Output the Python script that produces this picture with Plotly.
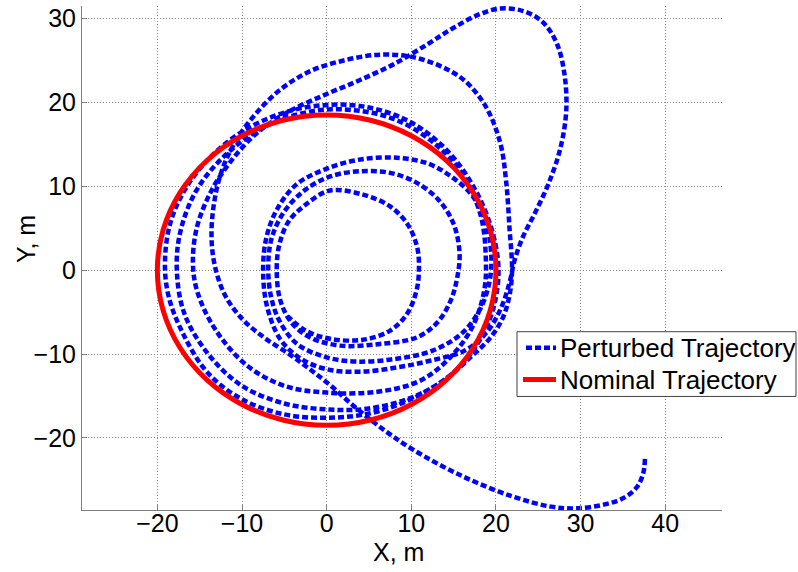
import plotly.graph_objects as go

# Perturbed trajectory (in path order)
perturbed_x = [37.6, 37.4, 36.7, 35.2, 33.0, 29.5, 26.5, 22.0, 16.1, 10.2, 6.3, 3.2, 0.4, -2.0, -4.3, -7.3, -9.9, -12.0, -13.2, -13.6, -13.3, -12.4, -10.8, -8.5, -5.5, -2.0, 2.0, 6.3, 10.2, 13.5, 16.3, 18.8, 20.5, 21.2, 21.6, 21.9, 21.6, 20.8, 19.3, 17.2, 14.0, 9.5, 5.0, 0.0, -5.0, -10.0, -14.0, -17.0, -18.7, -19.1, -18.5, -16.8, -14.0, -10.0, -5.0, 0.0, 5.0, 10.0, 14.3, 17.6, 19.6, 20.3, 19.7, 18.0, 15.0, 10.5, 5.0, 0.0, -5.0, -10.0, -14.0, -16.8, -17.7, -17.3, -15.5, -12.3, -7.5, -2.0, 3.0, 8.0, 12.5, 16.0, 18.2, 18.8, 18.6, 17.2, 14.6, 11.0, 6.0, 0.0, -5.0, -9.5, -13.2, -15.3, -15.8, -15.3, -13.6, -11.3, -8.3, -4.5, 0.0, 4.0, 8.0, 12.0, 15.0, 18.0, 20.5, 23.2, 25.5, 27.2, 28.1, 28.3, 27.6, 26.2, 24.6, 23.2, 22.2, 21.6, 20.6, 19.0, 16.5, 12.2, 8.3, 4.3, 0.4, -3.0, -5.5, -7.0, -7.5, -7.2, -6.0, -3.6, 0.0, 4.0, 8.3, 12.0, 14.8, 17.2, 18.7, 19.4, 19.3, 18.2, 16.0, 12.5, 8.0, 3.5, 0.0, -3.5, -5.6, -6.6, -6.9, -6.5, -5.0, -2.5, 0.5, 4.0, 7.5, 10.5, 13.2, 15.0, 15.7, 15.4, 14.7, 13.2, 10.7, 6.3, 1.6, -2.0, -4.2, -5.5, -5.9, -5.6, -4.5, -2.5, 0.4, 4.3, 7.5, 9.6, 10.7, 10.9, 10.6, 9.5, 7.5, 4.3, 0.5, -2.5, -4.6]
perturbed_y = [-22.5, -24.2, -25.8, -27.1, -27.9, -28.4, -28.2, -27.0, -24.6, -21.4, -18.7, -16.2, -13.7, -11.8, -10.1, -8.1, -5.9, -3.0, 0.5, 4.0, 8.0, 11.8, 15.3, 18.5, 21.5, 23.7, 25.0, 25.7, 25.4, 24.3, 22.6, 19.5, 15.2, 10.6, 5.0, 0.0, -3.0, -5.7, -8.1, -10.2, -13.0, -15.6, -17.1, -17.6, -17.2, -15.4, -12.3, -7.5, -3.0, 1.0, 5.5, 9.5, 13.2, 16.5, 18.8, 19.7, 19.4, 17.6, 14.2, 9.5, 4.5, 0.0, -4.5, -8.5, -12.2, -15.0, -16.5, -16.6, -15.9, -13.8, -10.0, -5.2, 0.0, 4.5, 9.3, 13.4, 17.0, 18.9, 19.1, 18.0, 15.3, 11.5, 6.5, 1.5, -2.5, -6.8, -10.4, -13.2, -14.5, -14.6, -13.8, -11.3, -7.0, -2.5, 1.0, 5.2, 9.5, 13.0, 16.3, 18.9, 21.0, 22.7, 24.6, 27.0, 28.9, 30.5, 31.2, 30.9, 29.6, 27.0, 23.3, 19.0, 14.5, 10.3, 6.8, 4.0, 1.2, -1.5, -4.5, -7.3, -9.5, -10.8, -11.6, -12.1, -11.9, -10.6, -8.2, -4.5, -0.5, 3.5, 7.0, 10.2, 12.1, 13.2, 13.4, 12.7, 11.1, 8.9, 6.0, 2.5, -1.0, -4.5, -7.5, -9.6, -10.6, -10.9, -10.4, -8.8, -6.0, -3.0, 0.5, 3.8, 7.0, 9.6, 11.2, 11.8, 11.6, 10.5, 8.4, 5.5, 2.0, -1.0, -3.5, -6.1, -8.0, -8.8, -9.0, -8.0, -6.2, -3.5, 0.0, 3.0, 5.8, 7.8, 9.5, 9.0, 7.6, 5.4, 2.7, 0.0, -2.5, -5.2, -7.2, -8.3, -8.2, -7.2, -5.5]

# Nominal trajectory
nominal_x = [20.0, 19.32, 17.32, 14.14, 10.0, 5.18, 0.0, -5.18, -10.0, -14.14, -17.32, -19.32, -20.0, -19.32, -17.32, -14.14, -10.0, -5.18, 0.0, 5.18, 10.0, 14.14, 17.32, 19.32, 20.0]
nominal_y = [0.0, 4.79, 9.25, 13.08, 16.02, 17.87, 18.5, 17.87, 16.02, 13.08, 9.25, 4.79, 0.0, -4.79, -9.25, -13.08, -16.02, -17.87, -18.5, -17.87, -16.02, -13.08, -9.25, -4.79, 0.0]

x_ticks = [-20, -10, 0, 10, 20, 30, 40]
y_ticks = [-20, -10, 0, 10, 20, 30]
legend_labels = ["Perturbed Trajectory", "Nominal Trajectory"]

FONT = "Liberation Sans, Arial, sans-serif"
BLUE = "#0000FF"
RED = "#FF0000"
BLUE_DASH = "6px,3px"

# plot box in pixels
L, R, T, B = 82, 722, 4, 510


def px(xp):
    return (xp - L) / (R - L)


def py(yp):
    return (B - yp) / (B - T)


fig = go.Figure()
fig.add_trace(go.Scatter(
    x=perturbed_x, y=perturbed_y, mode="lines", name=legend_labels[0],
    line=dict(color=BLUE, width=4.5, dash=BLUE_DASH, shape="spline", smoothing=1.0),
    showlegend=False,
))
fig.add_trace(go.Scatter(
    x=nominal_x, y=nominal_y, mode="lines", name=legend_labels[1],
    line=dict(color=RED, width=5, shape="spline", smoothing=1.0),
    showlegend=False,
))

axis_common = dict(
    showgrid=True, gridcolor="#8c8c8c", griddash="1px,2px", gridwidth=1,
    zeroline=False, showline=True, linecolor="#7f7f7f", linewidth=1,
    ticks="inside", ticklen=5, tickcolor="#7f7f7f",
    tickfont=dict(family=FONT, size=25, color="black"), mirror=False,
)

shapes = [
    # legend box
    dict(type="rect", xref="paper", yref="paper",
         x0=px(517), x1=px(796), y0=py(396), y1=py(331),
         line=dict(color="#404040", width=1), fillcolor="white", layer="above"),
    # legend samples
    dict(type="line", xref="paper", yref="paper",
         x0=px(526), x1=px(556), y0=py(347), y1=py(347),
         line=dict(color=BLUE, width=4.5, dash=BLUE_DASH), layer="above"),
    dict(type="line", xref="paper", yref="paper",
         x0=px(523), x1=px(556), y0=py(379), y1=py(379),
         line=dict(color=RED, width=5), layer="above"),
]

annotations = [
    dict(text="X, m", xref="paper", yref="paper", x=px(398), y=py(552),
         showarrow=False, xanchor="center", yanchor="middle",
         font=dict(family=FONT, size=25, color="black")),
    dict(text="Y, m", xref="paper", yref="paper", x=px(26), y=py(238),
         showarrow=False, xanchor="center", yanchor="middle", textangle=-90,
         font=dict(family=FONT, size=25, color="black")),
    dict(text=legend_labels[0], xref="paper", yref="paper", x=px(558), y=py(347),
         showarrow=False, xanchor="left", yanchor="middle",
         font=dict(family=FONT, size=26, color="black")),
    dict(text=legend_labels[1], xref="paper", yref="paper", x=px(558), y=py(379),
         showarrow=False, xanchor="left", yanchor="middle",
         font=dict(family=FONT, size=26, color="black")),
]

fig.update_layout(
    width=798, height=572,
    margin=dict(l=L, r=798 - R, t=T, b=572 - B),
    paper_bgcolor="white", plot_bgcolor="white",
    font=dict(family=FONT, size=25, color="black"),
    xaxis=dict(range=[-28.9, 46.7], tickvals=x_ticks, ticklabelstandoff=-9, **axis_common),
    yaxis=dict(range=[-28.6, 31.5], tickvals=y_ticks, **axis_common),
    showlegend=False,
    shapes=shapes,
    annotations=annotations,
)

fig.write_html("out.html")
